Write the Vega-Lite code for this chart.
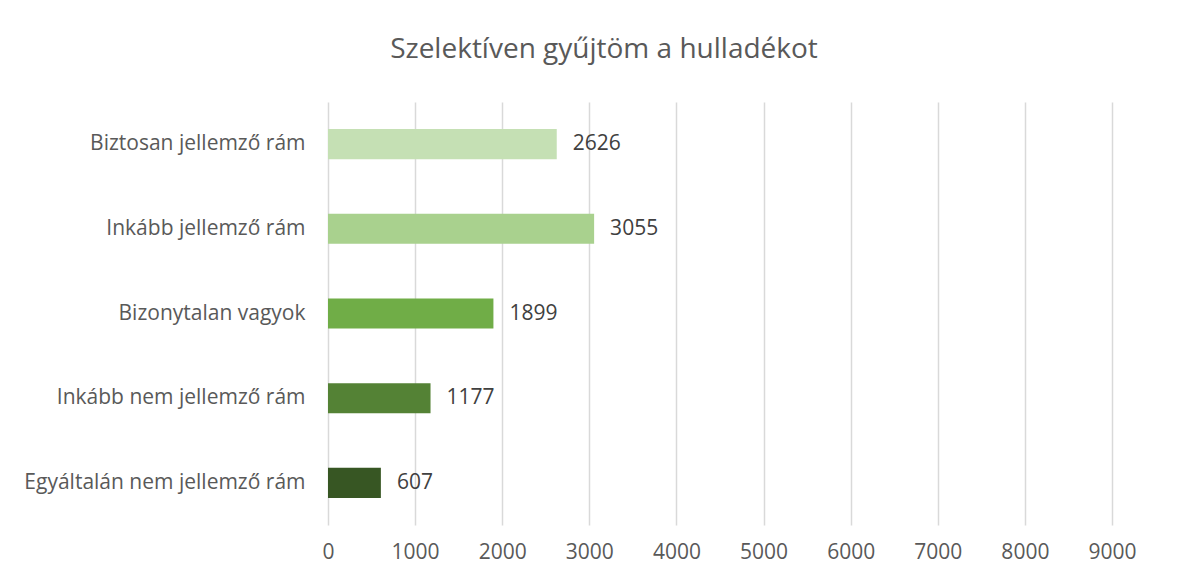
{
  "$schema": "https://vega.github.io/schema/vega-lite/v6.json",
  "width": 784,
  "height": 423,
  "autosize": {"type": "none"},
  "padding": {"left": 328, "top": 102, "right": 75, "bottom": 53},
  "background": "white",
  "title": {
    "text": "Szelektíven gyűjtöm a hulladékot",
    "font": "Open Sans",
    "fontSize": 28,
    "fontWeight": "normal",
    "color": "#595959",
    "anchor": "middle",
    "frame": "group",
    "baseline": "alphabetic",
    "offset": 16,
    "dx": -116
  },
  "data": {
    "values": [
      {"valasz": "Biztosan jellemző rám", "n": 2626, "order": 1},
      {"valasz": "Inkább jellemző rám", "n": 3055, "order": 2},
      {"valasz": "Bizonytalan vagyok", "n": 1899, "order": 3},
      {"valasz": "Inkább nem jellemző rám", "n": 1177, "order": 4},
      {"valasz": "Egyáltalán nem jellemző rám", "n": 607, "order": 5}
    ]
  },
  "encoding": {
    "y": {
      "field": "valasz",
      "type": "nominal",
      "sort": {"field": "order"},
      "title": null,
      "scale": {"paddingInner": 0.645, "paddingOuter": 0.32},
      "axis": {
        "domain": false,
        "ticks": false,
        "grid": false,
        "labelPadding": 23,
        "labelFont": "Open Sans",
        "labelFontSize": 21,
        "labelColor": "#595959",
        "labelLimit": 400
      }
    },
    "x": {
      "field": "n",
      "type": "quantitative",
      "title": null,
      "scale": {"domain": [0, 9000], "nice": false},
      "axis": {
        "values": [0, 1000, 2000, 3000, 4000, 5000, 6000, 7000, 8000, 9000],
        "format": "d",
        "domain": false,
        "ticks": false,
        "grid": true,
        "gridColor": "#d9d9d9",
        "gridWidth": 1.5,
        "labelFlush": false,
        "labelOverlap": false,
        "labelPadding": 16,
        "labelFont": "Open Sans",
        "labelFontSize": 21,
        "labelColor": "#595959"
      }
    }
  },
  "layer": [
    {
      "mark": {"type": "bar"},
      "encoding": {
        "color": {
          "field": "valasz",
          "type": "nominal",
          "legend": null,
          "scale": {
            "domain": ["Biztosan jellemző rám", "Inkább jellemző rám", "Bizonytalan vagyok", "Inkább nem jellemző rám", "Egyáltalán nem jellemző rám"],
            "range": ["#c5e0b4", "#a9d18e", "#70ad47", "#548235", "#375623"]
          }
        }
      }
    },
    {
      "mark": {"type": "text", "align": "left", "dx": 16, "font": "Open Sans", "fontSize": 21, "color": "#404040", "baseline": "middle"},
      "encoding": {"text": {"field": "n", "type": "quantitative", "format": "d"}}
    }
  ],
  "config": {"view": {"stroke": null}}
}
